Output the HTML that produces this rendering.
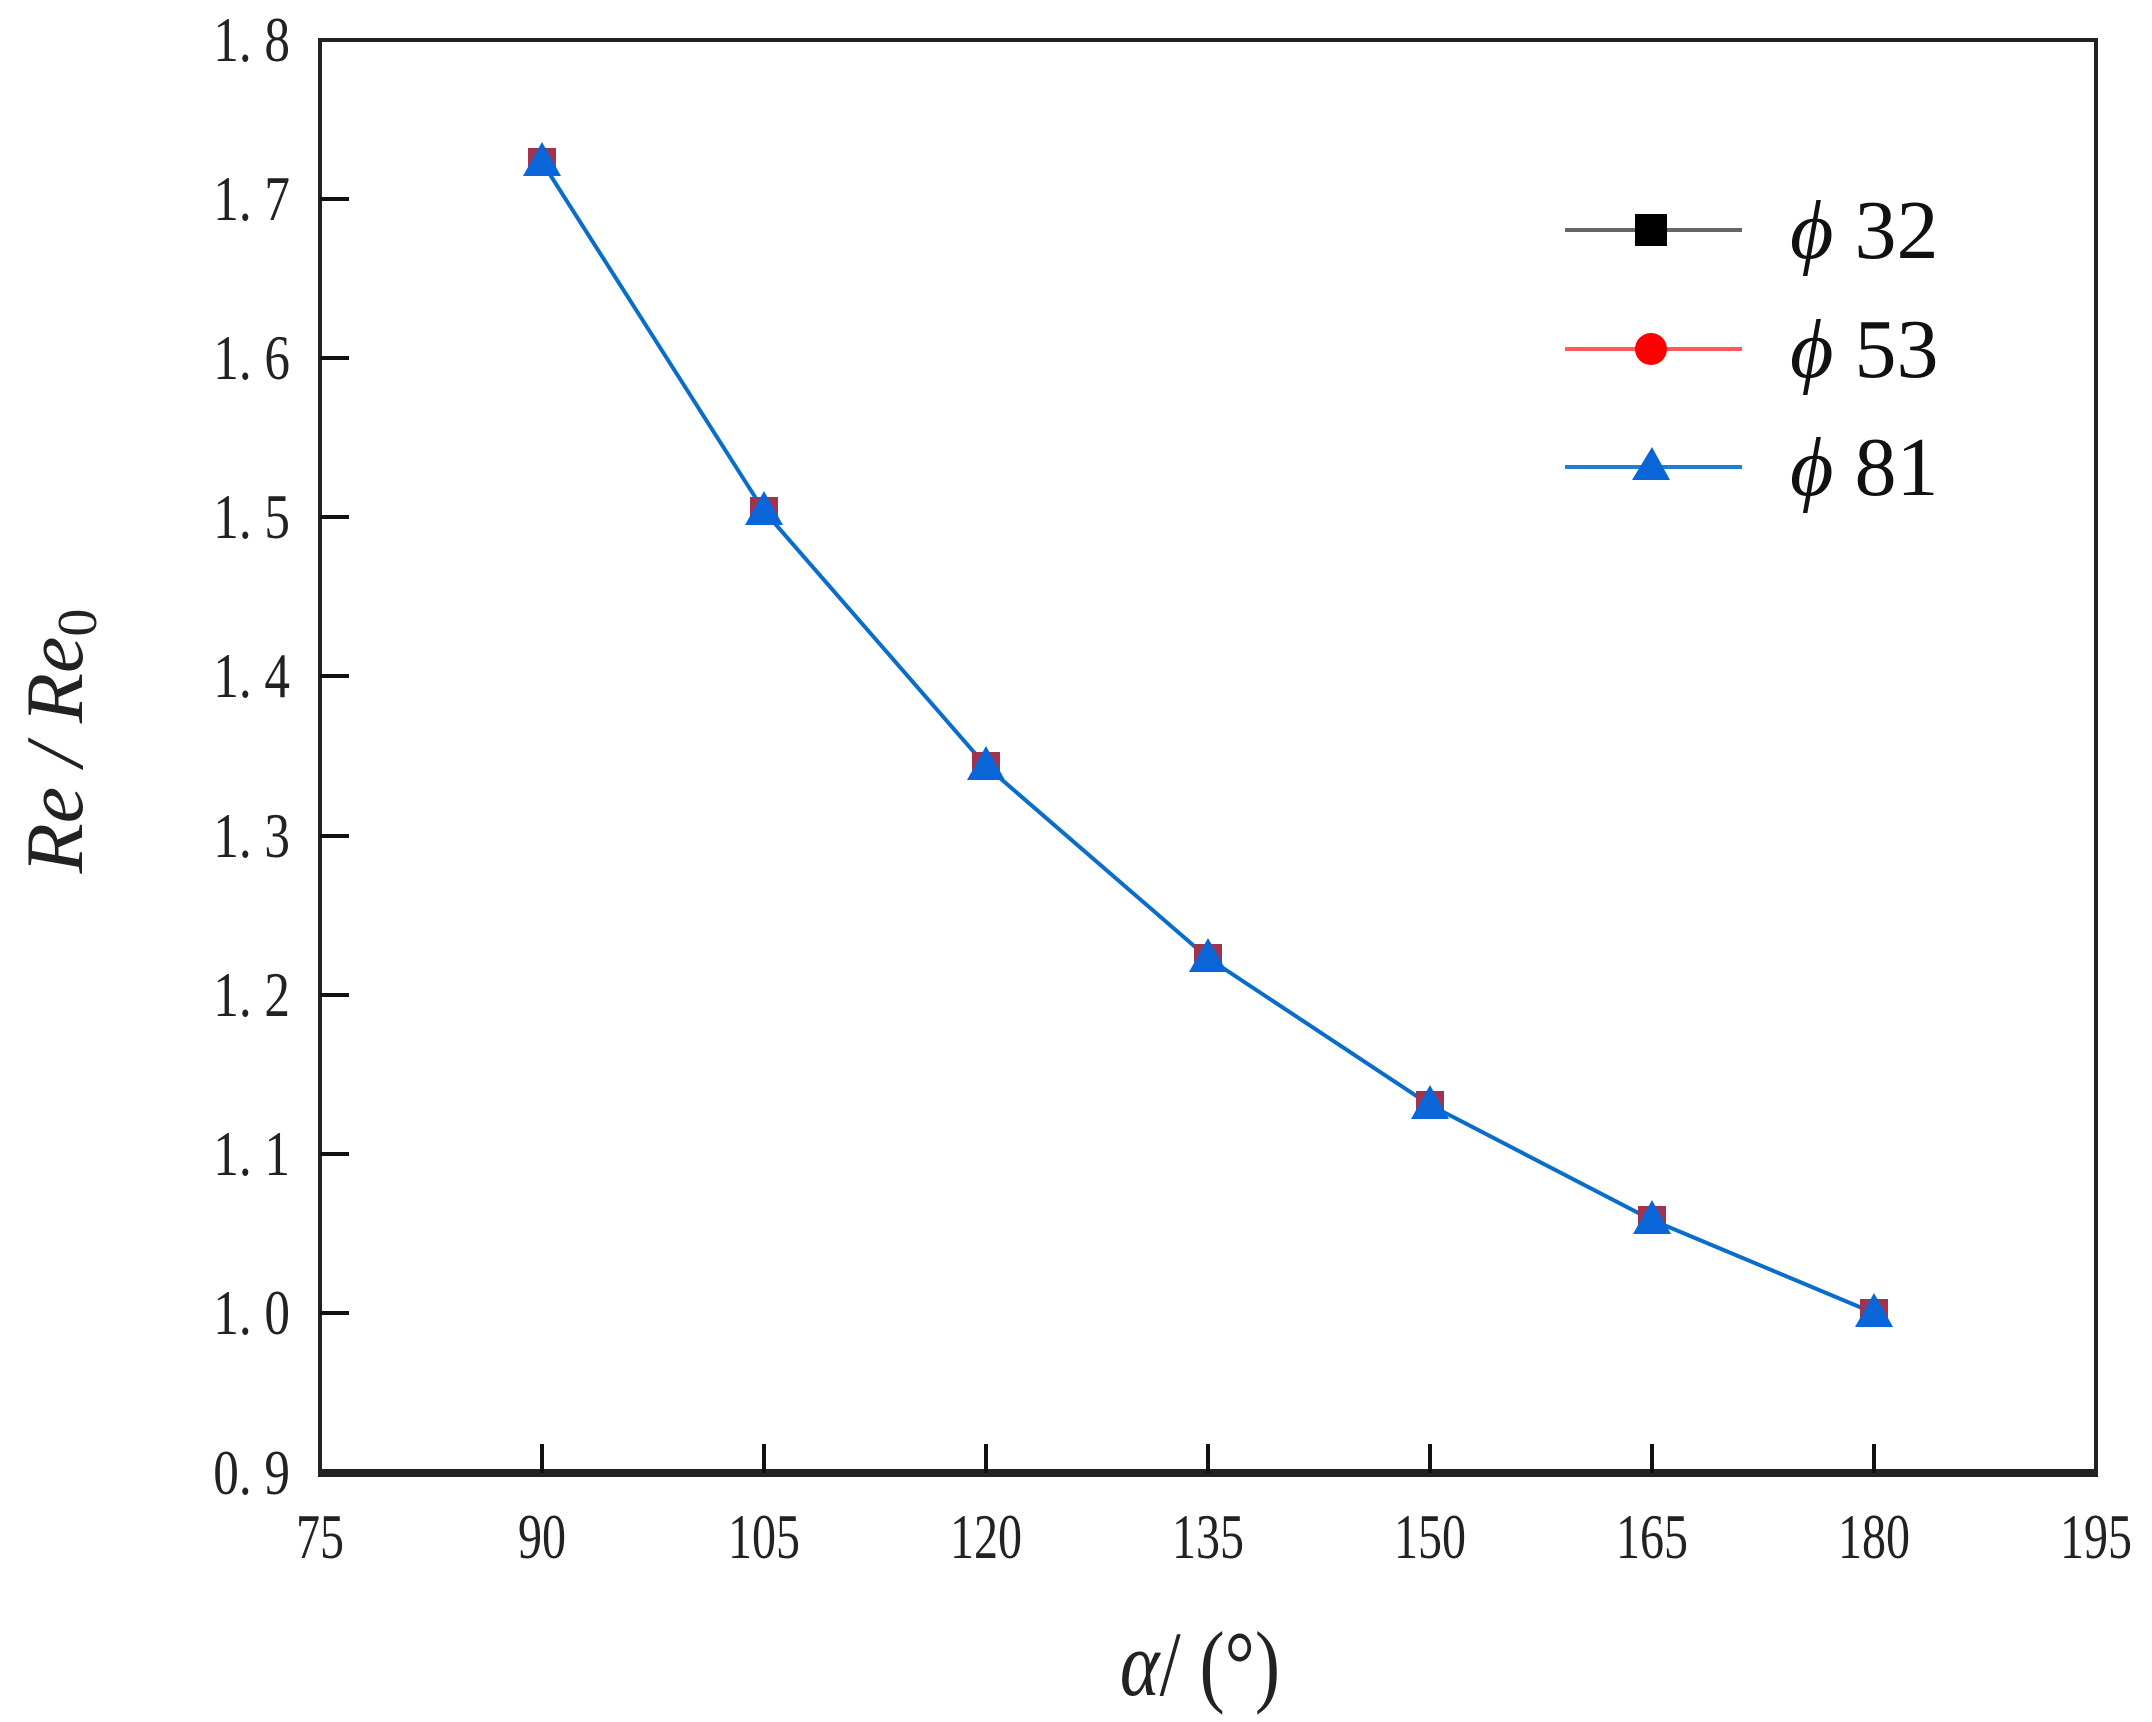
<!DOCTYPE html>
<html><head><style>html,body{margin:0;padding:0;background:#fff;}</style></head>
<body>
<svg width="2152" height="1717" viewBox="0 0 2152 1717" xmlns="http://www.w3.org/2000/svg">
<rect width="2152" height="1717" fill="#fff"/>
<g stroke="#222" fill="none">
<rect x="320" y="40" width="1776" height="1433" stroke-width="4"/>
<line x1="318" y1="1473" x2="2098" y2="1473" stroke-width="8"/>
</g>
<g stroke="#111" stroke-width="4">
<line x1="320" y1="199" x2="349" y2="199"/>
<line x1="320" y1="358" x2="349" y2="358"/>
<line x1="320" y1="517" x2="349" y2="517"/>
<line x1="320" y1="676" x2="349" y2="676"/>
<line x1="320" y1="836" x2="349" y2="836"/>
<line x1="320" y1="995" x2="349" y2="995"/>
<line x1="320" y1="1154" x2="349" y2="1154"/>
<line x1="320" y1="1313" x2="349" y2="1313"/>
<line x1="542" y1="1473" x2="542" y2="1444"/>
<line x1="764" y1="1473" x2="764" y2="1444"/>
<line x1="986" y1="1473" x2="986" y2="1444"/>
<line x1="1208" y1="1473" x2="1208" y2="1444"/>
<line x1="1430" y1="1473" x2="1430" y2="1444"/>
<line x1="1652" y1="1473" x2="1652" y2="1444"/>
<line x1="1874" y1="1473" x2="1874" y2="1444"/>
</g>
<g font-family="Liberation Serif, serif" font-size="64" fill="#222" text-anchor="end">
<text transform="translate(290,61) scale(0.8,1)">1. 8</text>
<text transform="translate(290,220) scale(0.8,1)">1. 7</text>
<text transform="translate(290,379) scale(0.8,1)">1. 6</text>
<text transform="translate(290,538) scale(0.8,1)">1. 5</text>
<text transform="translate(290,697) scale(0.8,1)">1. 4</text>
<text transform="translate(290,857) scale(0.8,1)">1. 3</text>
<text transform="translate(290,1016) scale(0.8,1)">1. 2</text>
<text transform="translate(290,1175) scale(0.8,1)">1. 1</text>
<text transform="translate(290,1334) scale(0.8,1)">1. 0</text>
<text transform="translate(290,1494) scale(0.8,1)">0. 9</text>
</g>
<g font-family="Liberation Serif, serif" font-size="64" fill="#222" text-anchor="middle">
<text transform="translate(320,1558) scale(0.75,1)">75</text>
<text transform="translate(542,1558) scale(0.75,1)">90</text>
<text transform="translate(764,1558) scale(0.75,1)">105</text>
<text transform="translate(986,1558) scale(0.75,1)">120</text>
<text transform="translate(1208,1558) scale(0.75,1)">135</text>
<text transform="translate(1430,1558) scale(0.75,1)">150</text>
<text transform="translate(1652,1558) scale(0.75,1)">165</text>
<text transform="translate(1874,1558) scale(0.75,1)">180</text>
<text transform="translate(2096,1558) scale(0.75,1)">195</text>
</g>
<text transform="translate(1200,1695) scale(0.9,1.1)" font-family="Liberation Serif, serif" font-size="84" fill="#222" text-anchor="middle"><tspan font-style="italic">α</tspan>/ (°)</text>
<text transform="translate(82,741) rotate(-90)" font-family="Liberation Serif, serif" font-size="82" font-style="italic" fill="#222" text-anchor="middle">Re / Re<tspan font-style="normal" font-size="56" dy="14">0</tspan></text>
<polyline points="542,162 764,511 986,766 1208,958 1430,1105 1652,1220 1874,1313" fill="none" stroke="#0a6ec8" stroke-width="4"/>
<g>
<g fill="#a0344c">
<rect x="528" y="148" width="28" height="28"/><rect x="750" y="497" width="28" height="28"/><rect x="972" y="752" width="28" height="28"/><rect x="1194" y="944" width="28" height="28"/><rect x="1416" y="1091" width="28" height="28"/><rect x="1638" y="1206" width="28" height="28"/><rect x="1860" y="1299" width="28" height="28"/>
</g>
<g fill="#0a66d8">
<polygon points="542,142 561,176 523,176"/><polygon points="764,491 783,525 745,525"/><polygon points="986,746 1005,780 967,780"/><polygon points="1208,938 1227,972 1189,972"/><polygon points="1430,1085 1449,1119 1411,1119"/><polygon points="1652,1200 1671,1234 1633,1234"/><polygon points="1874,1293 1893,1327 1855,1327"/>
</g>
</g>
<line x1="1565" y1="230" x2="1742" y2="230" stroke="#666" stroke-width="4"/>
<rect x="1635" y="214" width="32" height="32" fill="#000"/>
<line x1="1565" y1="349" x2="1742" y2="349" stroke="#ff5a5a" stroke-width="4"/>
<circle cx="1651" cy="349" r="16" fill="#ff0000"/>
<line x1="1565" y1="467" x2="1742" y2="467" stroke="#1e7fd2" stroke-width="4"/>
<polygon points="1652,447 1670,480 1632,480" fill="#0a66d8"/>
<g font-family="Liberation Serif, serif" font-size="84" fill="#111">
<text x="1790" y="258"><tspan font-style="italic">ϕ</tspan> 32</text>
<text x="1790" y="377"><tspan font-style="italic">ϕ</tspan> 53</text>
<text x="1790" y="495"><tspan font-style="italic">ϕ</tspan> 81</text>
</g>
</svg>
</body></html>
